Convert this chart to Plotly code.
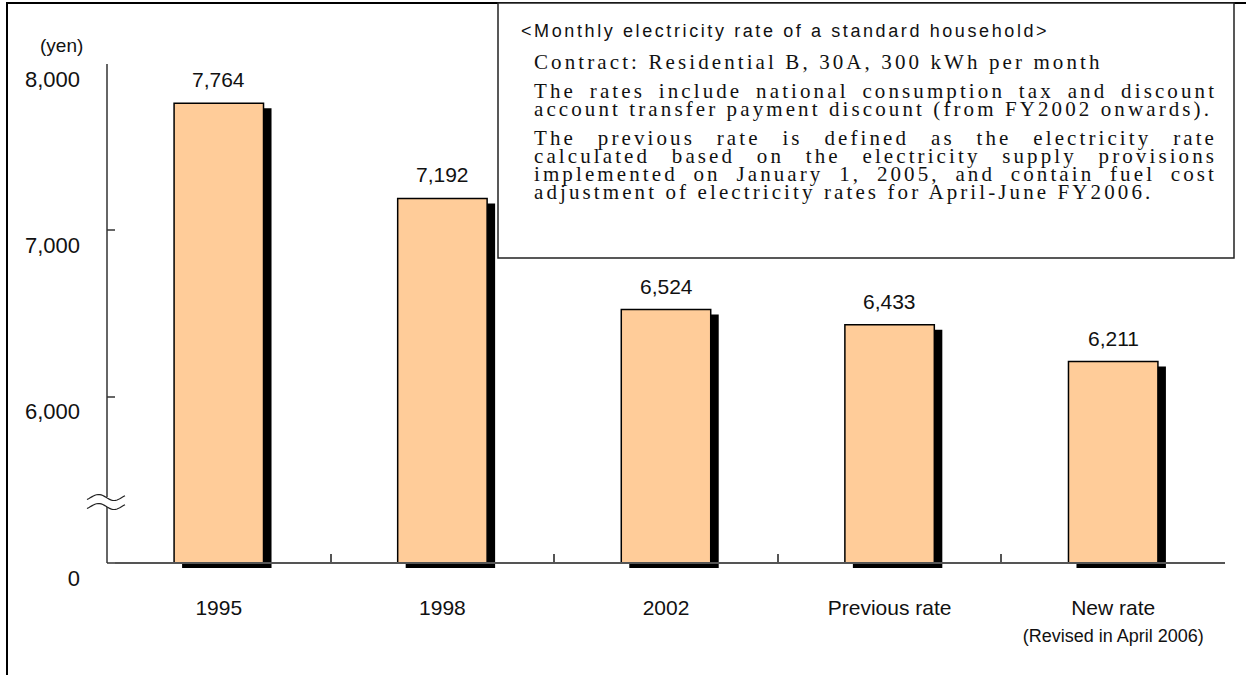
import math
import plotly.graph_objects as go

# ---- data -------------------------------------------------------------
categories = ["1995", "1998", "2002", "Previous rate", "New rate"]
rates_yen = [7764, 7192, 6524, 6433, 6211]
category_notes = ["", "", "", "", "(Revised in April 2006)"]
y_tick_values = [5000, 6000, 7000, 8000]
y_tick_labels = ["0", "6,000", "7,000", "8,000"]

title_text = "<Monthly electricity rate of a standard household>"
note_lines = [
    ("Contract: Residential B, 30A, 300 kWh per month", False),
    ("The rates include national consumption tax and discount", True),
    ("account transfer payment discount (from FY2002 onwards).", False),
    ("The previous rate is defined as the electricity rate", True),
    ("calculated based on the electricity supply provisions", True),
    ("implemented on January 1, 2005, and contain fuel cost", True),
    ("adjustment of electricity rates for April-June FY2006.", False),
]

# ---- geometry ---------------------------------------------------------
W, H = 1246, 675
ML, MR, MT, MB = 107, 21, 64, 106
PW, PH = W - ML - MR, H - MT - MB
AXIS_BASE = 5000          # value drawn at the broken-axis baseline ("0")
Y_TOP = 8000
YEN_PER_PX = (Y_TOP - AXIS_BASE) / (PH - 6)
Y_LOW = Y_TOP - PH * YEN_PER_PX
SHADOW_DY = 5 * YEN_PER_PX
SHADOW_DX = 8 / PW * len(categories)
BAR_W = 0.4


def px_x(px):
    return (px - ML) / PW


def px_y(py):
    return (H - MB - py) / PH


# Times metrics (Liberation Serif) for line justification
TIMES = {" ": 250, "(": 333, ")": 333, ",": 250, "-": 333, ".": 250, ":": 278}
TIMES.update({d: 500 for d in "0123456789"})
TIMES.update(dict(zip("ABCDEFGHIJKLMNOPQRSTUVWXYZ",
                      [722, 667, 667, 722, 611, 556, 722, 722, 333, 389, 722, 611, 889,
                       722, 722, 556, 722, 667, 556, 611, 722, 722, 944, 722, 722, 611])))
TIMES.update(dict(zip("abcdefghijklmnopqrstuvwxyz",
                      [444, 500, 444, 500, 444, 333, 500, 500, 278, 278, 500, 278, 778,
                       500, 500, 500, 500, 333, 389, 278, 500, 500, 722, 500, 500, 444])))

NOTE_FONT = 21
NOTE_LS = 3.1
NOTE_X0, NOTE_X1 = 532, 1212


def note_html(text, justify):
    em = sum(TIMES.get(c, 500) for c in text) / 1000
    natural = em * NOTE_FONT + NOTE_LS * (len(text) - 1)
    ws = 0.0
    if justify:
        ws = (NOTE_X1 - NOTE_X0 - natural) / text.count(" ")
    return (f'<span style="letter-spacing:{NOTE_LS}px;word-spacing:{ws:.2f}px">'
            f'{text}</span>')


fig = go.Figure()

# drop shadow behind each bar
fig.add_trace(go.Bar(
    x=categories, y=[v - AXIS_BASE for v in rates_yen], base=AXIS_BASE - SHADOW_DY,
    width=BAR_W, offset=-BAR_W / 2 + SHADOW_DX,
    marker=dict(color="black", line=dict(width=0)), hoverinfo="skip",
))
# bars
fig.add_trace(go.Bar(
    x=categories, y=[v - AXIS_BASE for v in rates_yen], base=AXIS_BASE,
    width=BAR_W, offset=-BAR_W / 2,
    marker=dict(color="#FFCC99", line=dict(color="black", width=1.5)),
    customdata=rates_yen, hovertemplate="%{x}: %{customdata:,} yen<extra></extra>",
))

ann = []
for i, v in enumerate(rates_yen):
    ann.append(dict(x=i, y=v, xref="x", yref="y", text=f"{v:,}", showarrow=False,
                    xanchor="center", yanchor="bottom", yshift=10,
                    font=dict(family="Liberation Sans, Arial", size=21, color="#111")))

ann.append(dict(x=px_x(61), y=px_y(46), xref="paper", yref="paper", text="(yen)",
                xanchor="center", yanchor="middle", showarrow=False,
                font=dict(family="Liberation Sans, Arial", size=19, color="#111")))

ann.append(dict(x=px_x(519), y=px_y(31), xref="paper", yref="paper", xanchor="left",
                yanchor="middle",
                text='<span style="letter-spacing:2.6px">'
                     + title_text.replace("<", "&lt;").replace(">", "&gt;") + "</span>",
                showarrow=False, font=dict(family="Liberation Sans, Arial", size=18, color="#111")))

line_y = [62, 91, 109, 138, 156, 174, 192]
for (txt, just), yy in zip(note_lines, line_y):
    ann.append(dict(x=px_x(NOTE_X0), y=px_y(yy), xref="paper", yref="paper",
                    xanchor="left", yanchor="middle", text=note_html(txt, just),
                    showarrow=False,
                    font=dict(family="Liberation Serif, Times New Roman", size=NOTE_FONT, color="#111")))

shapes = []
# outer frame lines
shapes.append(dict(type="line", xref="paper", yref="paper", x0=px_x(6), x1=px_x(W),
                   y0=px_y(3), y1=px_y(3), line=dict(color="black", width=2)))
shapes.append(dict(type="line", xref="paper", yref="paper", x0=px_x(7), x1=px_x(7),
                   y0=px_y(3), y1=px_y(H), line=dict(color="black", width=2)))
# notes box
shapes.append(dict(type="rect", xref="paper", yref="paper", x0=px_x(498), x1=px_x(1234),
                   y0=px_y(258), y1=px_y(3), fillcolor="white",
                   line=dict(color="#222", width=1.5)))
# value axis line
shapes.append(dict(type="line", xref="paper", yref="y", x0=0, x1=0, y0=AXIS_BASE, y1=Y_TOP,
                   line=dict(color="#333", width=1.5)))
# axis break mark
shapes.append(dict(type="rect", xref="paper", yref="paper", x0=px_x(104), x1=px_x(111),
                   y0=px_y(507), y1=px_y(497), fillcolor="white", line=dict(width=0)))


def wave(yc):
    pts = []
    n = 24
    for i in range(n + 1):
        t = -0.12 + 1.22 * i / n
        x = 87 + 38 * i / n
        y = yc - 3 * math.sin(2 * math.pi * t)
        pts.append(f"{px_x(x):.5f},{px_y(y):.5f}")
    return "M " + " L ".join(pts)


for yc in (497.5, 506.5):
    shapes.append(dict(type="path", xref="paper", yref="paper", path=wave(yc),
                       line=dict(color="#222", width=1.2)))

fig.update_layout(
    width=W, height=H,
    margin=dict(l=ML, r=MR, t=MT, b=MB),
    paper_bgcolor="white", plot_bgcolor="white",
    barmode="overlay", showlegend=False,
    annotations=ann, shapes=shapes,
    font=dict(family="Liberation Sans, Arial", color="#111"),
    xaxis=dict(
        type="category", categoryorder="array", categoryarray=categories,
        range=[-0.5, len(categories) - 0.5],
        tickvals=categories,
        ticktext=[c if not n else f"{c}<br><span style='font-size:18px'>{n}</span>"
                  for c, n in zip(categories, category_notes)],
        anchor="free", position=(AXIS_BASE - Y_LOW) / (Y_TOP - Y_LOW),
        showline=True, linecolor="#555", linewidth=1.5,
        ticks="inside", tickson="boundaries", ticklen=8, tickcolor="#555", tickwidth=1.5,
        tickfont=dict(size=21, color="#111"), ticklabelstandoff=26,
        showgrid=False, zeroline=False, fixedrange=True,
    ),
    yaxis=dict(
        range=[Y_LOW, Y_TOP], tickvals=y_tick_values, ticktext=y_tick_labels,
        ticks="inside", ticklen=8, tickcolor="#666", tickwidth=1.5,
        tickfont=dict(size=22, color="#111"), ticklabelstandoff=26, ticklabelshift=15,
        showline=False, showgrid=False, zeroline=False, fixedrange=True,
    ),
)

fig.write_html("out.html")
